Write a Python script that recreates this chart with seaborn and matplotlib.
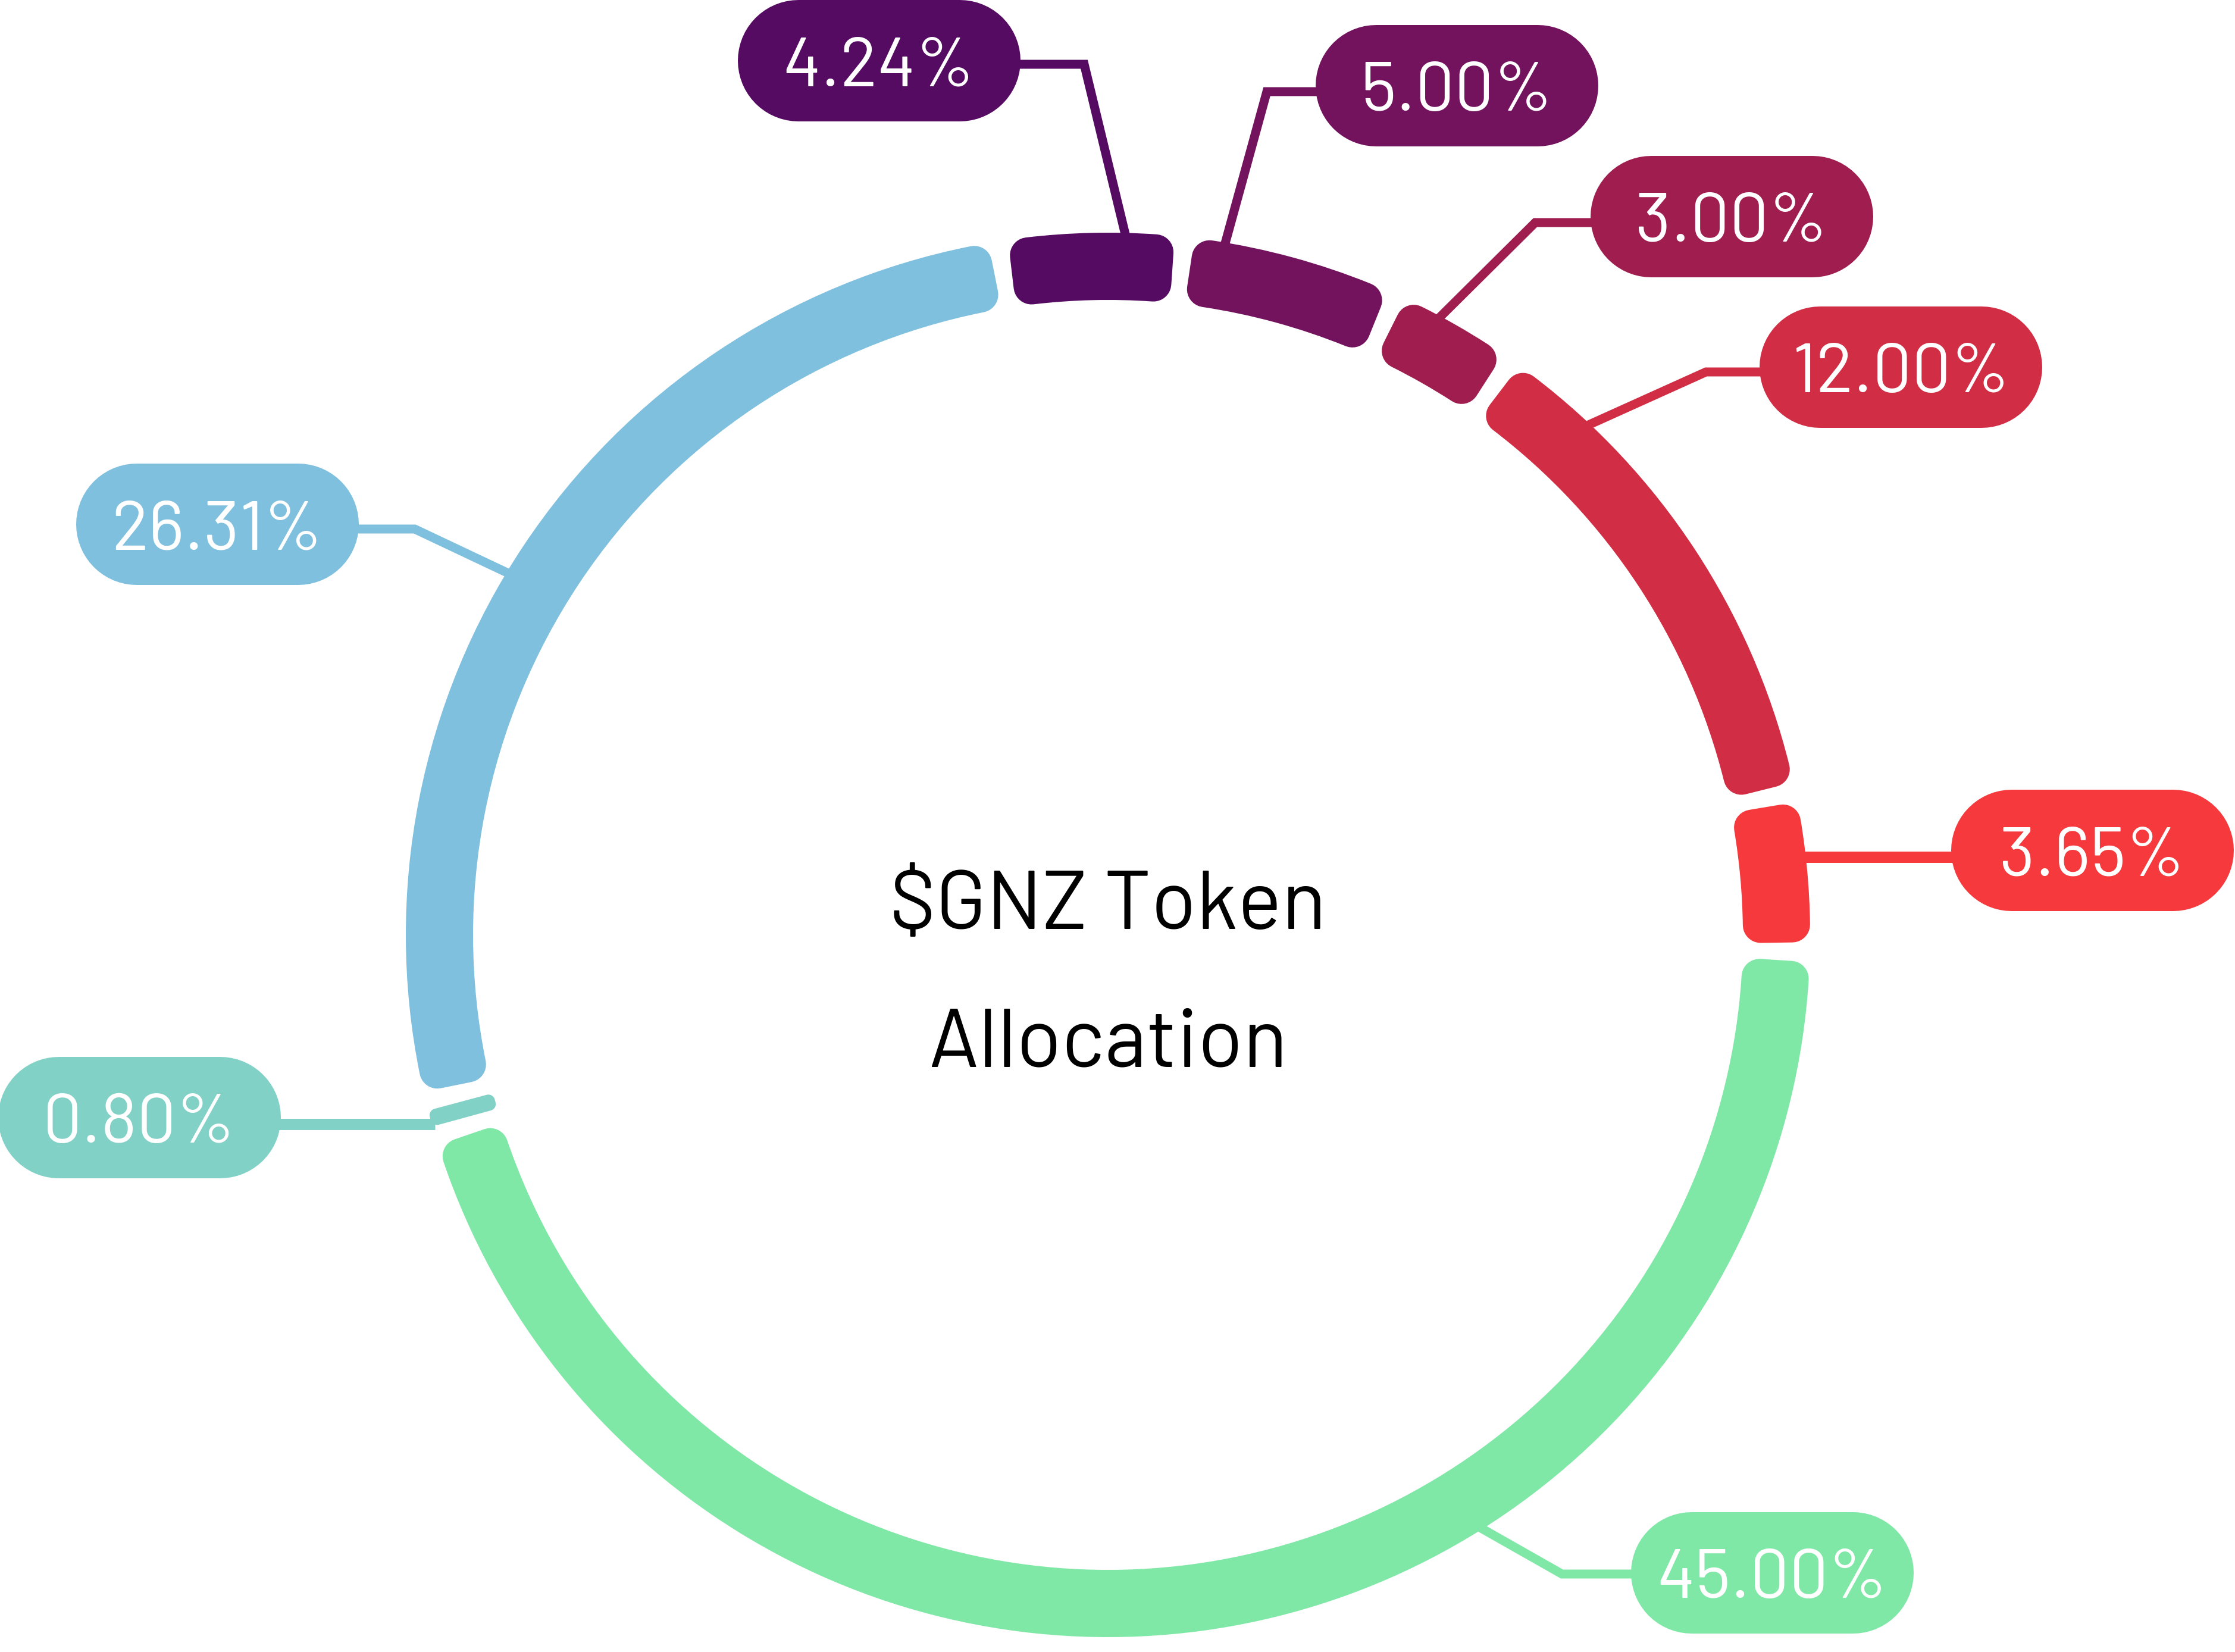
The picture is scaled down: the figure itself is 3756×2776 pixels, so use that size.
import numpy as np
import matplotlib
matplotlib.use("Agg")
import matplotlib.pyplot as plt
import matplotlib.font_manager as fm
import seaborn as sns

# --- data ---
labels = ["4.24%", "5.00%", "3.00%", "12.00%", "3.65%", "45.00%", "0.80%", "26.31%"]
shares = [4.24, 5.00, 3.00, 12.00, 3.65, 45.00, 0.80, 26.31]
colors = ["#560B62", "#73135E", "#9F1E4F", "#D12D45", "#F5393C", "#80E8A7", "#82D1C7", "#80C0DF"]
title_lines = ["$GNZ Token", "Allocation"]

# --- layout, in pixels with y pointing down ---
W, H = 3756, 2776
CX, CY = 1862, 1571
R_OUT, THICK = 1180, 113
GAP = 29        # gap between segments (px, at mid radius)
CORNER = 30     # rounded corner radius (px)
START = -9      # first slice starts 9 deg left of top, goes clockwise

# where each leader touches the ring (deg clockwise from top), its elbow, pill centre
anchor_deg = [1.45, 9.6, 28.2, 43.25, 83.6, 147.9, 254.3, 301.1]
elbows = [(1822, 108), (2129, 154), (2580, 374), (2867, 625), None, (2625, 2645), None, (697, 889)]
pills = [(1477, 102), (2448, 144), (2910, 364), (3194, 617), (3516, 1429), (2978, 2643), (234, 1878), (365, 881)]
PILL_W, PILL_H = 475, 204
PX2PT = 72 / 100


def ring_xy(phi, r):
    a = np.radians(phi)
    return CX + r * np.sin(a), CY - r * np.cos(a)


sns.set_theme(style="white")
avail = {f.name for f in fm.fontManager.ttflist}
font = next((f for f in ["Barlow", "Roboto Condensed", "Liberation Sans Narrow", "Roboto"] if f in avail),
            "DejaVu Sans")
plt.rcParams["font.family"] = [font, "DejaVu Sans"]

fig = plt.figure(figsize=(W / 100, H / 100), dpi=100)
ax = fig.add_axes([0, 0, 1, 1])

palette = sns.color_palette(colors)
wedges, _ = ax.pie(shares, colors=palette, startangle=START - 90, counterclock=True,
                   center=(CX, CY), radius=R_OUT, wedgeprops=dict(width=THICK))

# shrink every slice to leave a gap and round its corners with a same-colour stroke
r_mid = R_OUT - THICK / 2
gap_deg = np.degrees(GAP / r_mid)
for w, share in zip(wedges, shares):
    vis = 3.6 * share - gap_deg
    lw = min(2 * CORNER, 0.8 * np.radians(vis) * r_mid)
    shrink = gap_deg / 2 + np.degrees(lw / 2 / r_mid)
    t1, t2 = w.theta1, w.theta2
    w.set_theta1(t1 + shrink)
    w.set_theta2(t2 - shrink)
    w.set_radius(R_OUT - lw / 2)
    w.set_width(THICK - lw)
    w.set_edgecolor(w.get_facecolor())
    w.set_linewidth(lw * PX2PT)
    w.set_joinstyle("round")
    w.set_zorder(2)

# leader lines and pill labels
for lab, col, phi, elb, (px, py) in zip(labels, colors, anchor_deg, elbows, pills):
    x0, y0 = ring_xy(phi, R_OUT - 5)
    if elb is None:
        ey = y0
        pts = [(x0, y0)]
        lw = 19
    else:
        ey = elb[1]
        pts = [(x0, y0), elb]
        lw = 15
    edge = px - PILL_W / 2 + 20 if px > x0 else px + PILL_W / 2 - 20
    pts.append((edge, ey))
    xs, ys = zip(*pts)
    ax.plot(xs, ys, color=col, lw=lw * PX2PT, solid_joinstyle="miter",
            solid_capstyle="butt", zorder=1)
    # pill = thick line with round caps -> stadium shape
    half = (PILL_W - PILL_H) / 2
    ax.plot([px - half, px + half], [py, py], color=col, lw=PILL_H * PX2PT,
            solid_capstyle="round", zorder=3)
    ax.text(px, py + 42, lab, ha="center", va="baseline", color="white",
            fontsize=84, zorder=4)

ax.text(CX, 1561, title_lines[0], ha="center", va="baseline", color="black", fontsize=100)
ax.text(CX, 1792, title_lines[1], ha="center", va="baseline", color="black", fontsize=100)

ax.set_xlim(0, W)
ax.set_ylim(H, 0)
ax.set_aspect("auto")
ax.axis("off")

fig.savefig("out.png", dpi=100, facecolor="white")
